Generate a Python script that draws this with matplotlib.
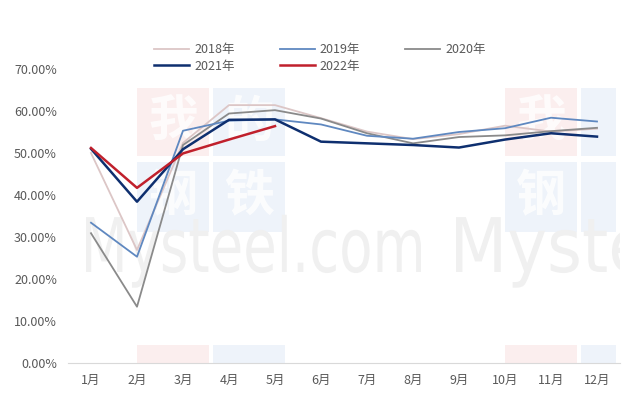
import matplotlib
matplotlib.use("Agg")
import matplotlib.pyplot as plt
from matplotlib.ticker import FuncFormatter
from matplotlib.textpath import TextPath
from matplotlib.patches import PathPatch, Rectangle
from matplotlib.transforms import Affine2D, IdentityTransform
from matplotlib.font_manager import FontProperties

plt.rcParams['font.family'] = ['Noto Sans CJK SC', 'DejaVu Sans']

months = ['1月', '2月', '3月', '4月', '5月', '6月', '7月', '8月', '9月', '10月', '11月', '12月']
y2018 = [0.500, 0.269, 0.524, 0.614, 0.614, 0.583, 0.551, 0.533, 0.545, 0.565, 0.551, 0.558]
y2019 = [0.334, 0.253, 0.553, 0.577, 0.580, 0.568, 0.541, 0.534, 0.550, 0.559, 0.584, 0.575]
y2020 = [0.309, 0.134, 0.519, 0.594, 0.602, 0.582, 0.547, 0.523, 0.538, 0.542, 0.552, 0.560]
y2021 = [0.510, 0.384, 0.509, 0.579, 0.580, 0.527, 0.523, 0.519, 0.513, 0.532, 0.547, 0.539]
y2022 = [0.512, 0.417, 0.499, 0.532, 0.564]
years = ['2018年', '2019年', '2020年', '2021年', '2022年']

W, H = 640, 404
fig = plt.figure(figsize=(6.4, 4.04), dpi=100)
ax = fig.add_axes([68/W, 1-363/H, 552/W, (363-69)/H])
ax.set_zorder(2)
ax.patch.set_alpha(0)

# ---- faint watermark (background decoration, pixel coords) ----
def wm_text(s, x0, base, width, cap, color='#f0f0f0'):
    tp = TextPath((0, 0), s, size=1, prop=FontProperties(family='DejaVu Sans'))
    ext = tp.get_extents()
    tr = Affine2D().translate(-ext.x0, 0).scale(width/ext.width, cap/0.73).translate(x0, H-base)
    p = PathPatch(tr.transform_path(tp), facecolor=color, edgecolor='none',
                  transform=IdentityTransform(), zorder=0.5)
    fig.add_artist(p)
    p.set_clip_box(ax.bbox)

def wm_box(x0, y0, x1, y1, color, ch):
    r = Rectangle((x0, H-y1), x1-x0, y1-y0, facecolor=color, edgecolor='none',
                  transform=IdentityTransform(), zorder=0.3)
    fig.add_artist(r)
    if ch:
        fig.text((x0+x1)/2/W, 1-(y0+y1)/2/H, ch, color='white', fontsize=36,
                 ha='center', va='center', zorder=0.4, alpha=0.8, fontweight='bold')

red_bg, blue_bg = '#fbeeee', '#eef3fa'
wm_box(137, 88, 209, 156, red_bg, '我')
wm_box(213, 88, 285, 156, blue_bg, '的')
wm_box(137, 162, 209, 232, blue_bg, '钢')
wm_box(213, 162, 285, 232, blue_bg, '铁')
wm_box(505, 88, 577, 156, red_bg, '我')
wm_box(505, 162, 577, 232, blue_bg, '钢')
wm_box(137, 345, 209, 363, red_bg, '')
wm_box(213, 345, 285, 363, blue_bg, '')
wm_box(505, 345, 577, 363, red_bg, '')
wm_box(581, 345, 616, 363, blue_bg, '')
wm_box(581, 88, 616, 156, blue_bg, '')
wm_box(581, 162, 616, 232, blue_bg, '')
wm_text('Mysteel.com', 86, 272, 335, 55)
wm_text('Myste', 456, 272, 190, 55)

x = list(range(len(months)))
h18, = ax.plot(x, y2018, color='#dcc6c6', lw=1.3, zorder=2)
h19, = ax.plot(x, y2019, color='#5f88c0', lw=1.3, zorder=3)
h20, = ax.plot(x, y2020, color='#8a8a8a', lw=1.3, zorder=2)
h21, = ax.plot(x, y2021, color='#0e2f6f', lw=1.8, zorder=4)
h22, = ax.plot(x[:len(y2022)], y2022, color='#c0202c', lw=1.8, zorder=5)

ax.set_xlim(-0.5, 11.5)
ax.set_ylim(0, 0.7)
ax.set_xticks(x)
ax.set_xticklabels(months)
ax.set_yticks([i/10 for i in range(8)])
ax.yaxis.set_major_formatter(FuncFormatter(lambda v, p: f'{v*100:.2f}%'))
ax.tick_params(length=0, labelsize=9, colors='#595959', pad=8)
for s in ['top', 'right', 'left']:
    ax.spines[s].set_visible(False)
ax.spines['bottom'].set_color('#d9d9d9')

handles = [h18, h21, h19, h22, h20]
labels = [years[0], years[3], years[1], years[4], years[2]]
leg = fig.legend(handles, labels, ncol=3, frameon=False, loc='center',
                 bbox_to_anchor=(0.5, 1-58/H), fontsize=9, handlelength=2.8,
                 handletextpad=0.4, columnspacing=3.6, labelspacing=0.25)
leg.set_zorder(3)
for t in leg.get_texts():
    t.set_color('#595959')

fig.savefig('out.png', dpi=100, facecolor='white')
